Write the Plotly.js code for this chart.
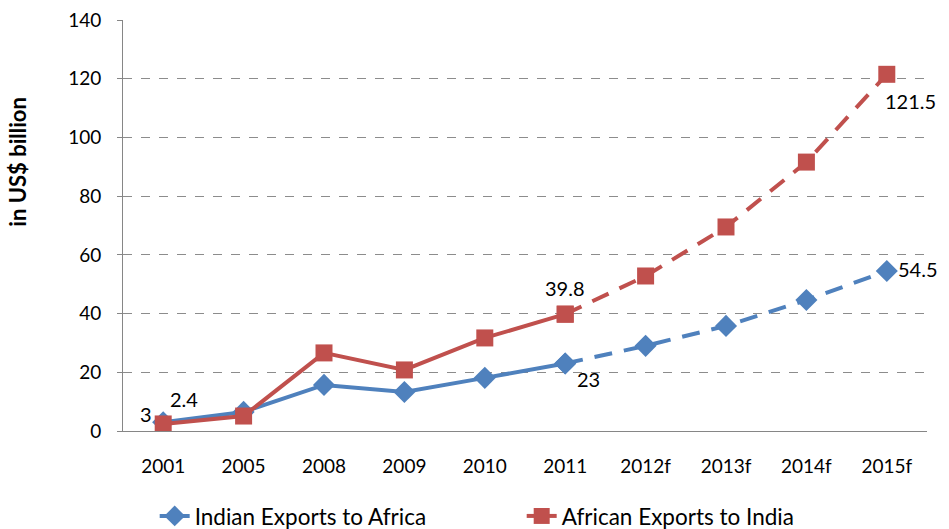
<!DOCTYPE html>
<html><head><meta charset="utf-8">
<script src="https://cdn.plot.ly/plotly-3.0.1.min.js"></script>
<style>html,body{margin:0;padding:0;background:#fff}</style>
</head><body><div id="chart" style="width:949px;height:529px"></div>
<script>
const categories = ["2001","2005","2008","2009","2010","2011","2012f","2013f","2014f","2015f"];
const indianExports = [3, 6.5, 15.7, 13.3, 18.1, 23, 29, 35.8, 44.6, 54.5];
const africanExports = [2.4, 5.1, 26.6, 20.8, 31.7, 39.8, 52.8, 69.5, 91.6, 121.5];
const actualCount = 6; // 2001..2011 actual, rest forecast
const yTicks = [0,20,40,60,80,100,120,140];

const blue = "#4F81BD", red = "#C0504D";
const font = "Lato, 'Open Sans', sans-serif";

function traces(name, vals, color, symbol, size){
  const a = categories.slice(0, actualCount), av = vals.slice(0, actualCount);
  const f = categories.slice(actualCount-1), fv = vals.slice(actualCount-1);
  return [
    {x:a, y:av, name:name, type:"scatter", mode:"lines+markers",
     line:{color:color, width:4}, marker:{symbol:symbol, size:size, color:color},
     legendgroup:name, showlegend:true},
    {x:f, y:fv, name:name, type:"scatter", mode:"lines+markers",
     line:{color:color, width:4, dash:"18px,12px"}, marker:{symbol:symbol, size:size, color:color},
     legendgroup:name, showlegend:false}
  ];
}

const data = [
  ...traces("Indian Exports to Africa", indianExports, blue, "diamond", 17),
  ...traces("African Exports to India", africanExports, red, "square", 17)
];

// data labels: [series, index, xshift, yshift]
const labelSpecs = [
  [indianExports, 0, -17, 8],
  [africanExports, 0, 21, 25],
  [africanExports, 5, 0, 26],
  [indianExports, 5, 23, -16],
  [africanExports, 9, 24, -27],
  [indianExports, 9, 31, 2]
];
const annotations = labelSpecs.map(([s,i,dx,dy]) => ({
  x: i, y: s[i], xref:"x", yref:"y", text:String(s[i]),
  showarrow:false, xshift:dx, yshift:dy, font:{family:font, size:20, color:"#000"}
}));
annotations.push({
  xref:"paper", yref:"paper", x:-0.15, y:0.655, text:"<b>in US$ billion</b>",
  textangle:-90, showarrow:false, font:{family:font, size:22, color:"#000"}
});

const layout = {
  width:949, height:529,
  margin:{l:123, r:22, t:20, b:98, autoexpand:false},
  paper_bgcolor:"#fff", plot_bgcolor:"#fff",
  showlegend:true,
  legend:{orientation:"h", x:0.163, xanchor:"left", xref:"container",
    y:0.024, yanchor:"middle", yref:"container", entrywidth:322, entrywidthmode:"pixels",
    font:{family:font, size:22.5, color:"#000"}, tracegroupgap:0},
  xaxis:{type:"category", showline:true, linecolor:"#868686", linewidth:1,
    ticks:"", tickfont:{family:font, size:19, color:"#000"}, showgrid:false,
    range:[-0.5, categories.length-0.5], fixedrange:true, ticklabelstandoff:18},
  yaxis:{range:[0,140], tickvals:yTicks, showline:true, linecolor:"#868686", linewidth:1,
    ticks:"outside", ticklen:5, tickcolor:"#868686",
    showgrid:true, gridcolor:"#8c8c8c", griddash:"dash", gridwidth:1,
    zeroline:false, tickfont:{family:font, size:19, color:"#000"}, ticklabelstandoff:12},
  annotations:annotations
};

Plotly.newPlot("chart", data, layout, {displayModeBar:false, staticPlot:true});
</script></body></html>
